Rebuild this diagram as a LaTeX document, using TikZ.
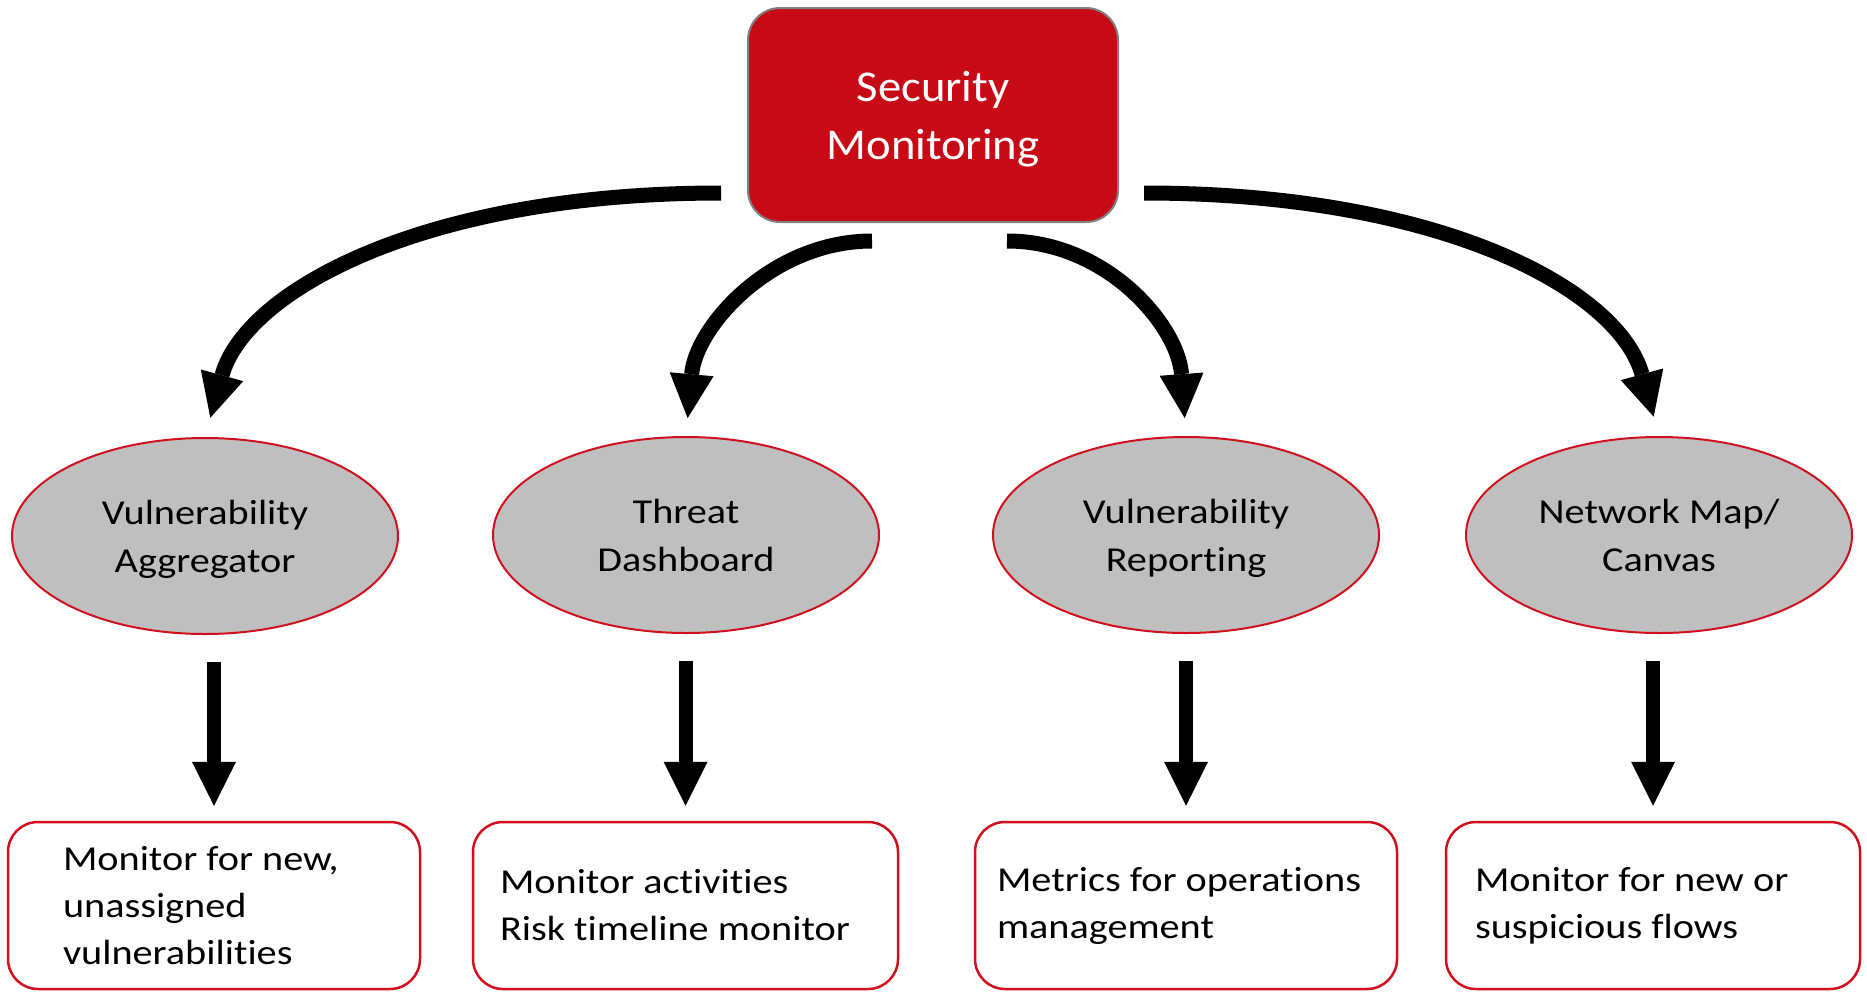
\documentclass[tikz,border=0pt]{standalone}
\usepackage{fontspec}
\setmainfont{Carlito}[Ligatures=NoCommon]
\newfontfamily\labelfont{Carlito}[FakeStretch=1.15,Ligatures=NoCommon]
\newfontfamily\titlefont{Carlito}[FakeStretch=1.06,Ligatures=NoCommon]
\usepackage{tikz}
\usepackage{xcolor}
\usetikzlibrary{arrows.meta,calc,positioning,shapes.geometric}
\definecolor{secred}{RGB}{200,10,22}
\definecolor{edgered}{RGB}{208,16,30}
\definecolor{ovalgray}{RGB}{191,191,191}
\tikzset{%
	topbox/.style  = {draw=gray, line width=1pt, fill=secred, rectangle, rounded corners=16pt, minimum width=185pt, minimum height=107pt, text=white, align=center, text depth=0pt, font=\titlefont\fontsize{22pt}{29pt}\selectfont},
	toolnode/.style= {draw=edgered, line width=1pt, fill=ovalgray, ellipse, minimum width=193pt, minimum height=98pt, inner sep=0pt, align=center, text depth=0pt, font=\labelfont\fontsize{17.5pt}{24pt}\selectfont},
	taskbox/.style = {draw=edgered, line width=1.25pt, rectangle, rounded corners=15pt, minimum height=83.5pt, align=flush left, font=\labelfont\fontsize{17.5pt}{23.5pt}\selectfont},
	bigarrow/.style= {line width=7.5pt, -{Triangle[length=22pt,width=22pt,line width=0pt]}},
}
\begin{document}
\begin{tikzpicture}[x=0.5pt,y=-0.5pt]
		\useasboundingbox (0,0) rectangle (1867,991);
		\node[topbox] (top) at (933,115) {Security\\Monitoring};
		% second row
		\node[toolnode] (e1) at (205,536) {Vulnerability\\Aggregator};
		\node[toolnode] (e2) at (686,535) {Threat\\Dashboard};
		\node[toolnode] (e3) at (1186,535) {Vulnerability\\Reporting};
		\node[toolnode] (e4) at (1659,535) {Network Map/\\Canvas};
		% bottom row
		\node[taskbox, inner xsep=27.5pt, text width=151pt] (b1) at (214,905.5) {Monitor for new,\\unassigned\\vulnerabilities};
		\node[taskbox, inner xsep=13.5pt, text width=185.5pt] (b2) at (685.5,905.5) {Monitor activities\\Risk timeline monitor};
		\node[taskbox, inner xsep=11pt, text width=189pt] (b3) at (1186,905.5) {Metrics for operations\\management};
		\node[taskbox, inner xsep=14.5pt, text width=178pt] (b4) at (1653,905.5) {Monitor for new or\\suspicious flows};
		% free ends of the curved arrows
		\coordinate (s1) at ([shift={(-26,-30)}]top.south west);
		\coordinate (s2) at ([shift={(125,18)}]top.south west);
		\coordinate (s3) at ([shift={(-112,18)}]top.south east);
		\coordinate (s4) at ([shift={(25,-30)}]top.south east);
		\draw[bigarrow, shorten >=10pt] (s1) .. controls +(-300,0) and +(40,-145) .. (e1.north);
		\draw[bigarrow, shorten >=9pt] (s2) .. controls +(-100,0) and +(10,-110) .. (e2.north);
		\draw[bigarrow, shorten >=9pt] (s3) .. controls +(100,0) and +(-8,-110) .. (e3.north);
		\draw[bigarrow, shorten >=10pt] (s4) .. controls +(300,0) and +(-40,-145) .. (e4.north);
		\foreach \i in {1,...,4}
			\draw[bigarrow, line width=7pt, shorten <=13.5pt, shorten >=7.5pt] (e\i.south -| b\i.north) -- (b\i.north);
\end{tikzpicture}
\end{document}
